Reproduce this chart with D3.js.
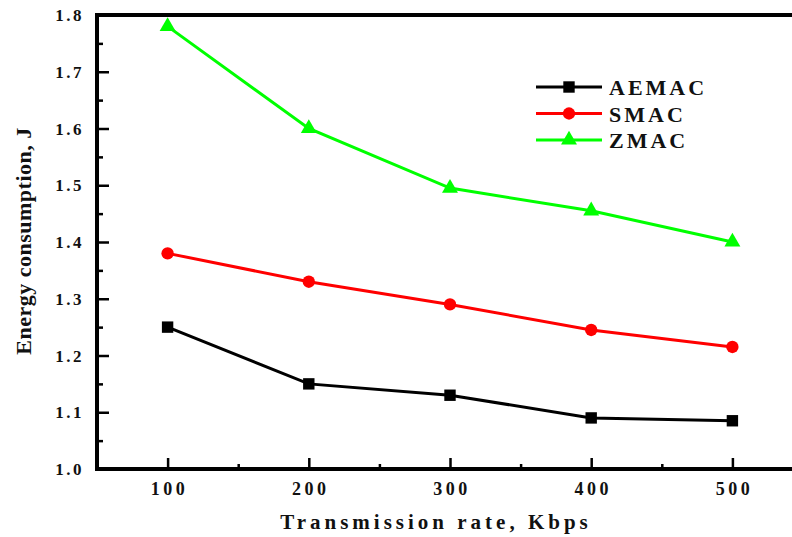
<!DOCTYPE html>
<html>
  <head>
    <meta charset="utf-8">
    <title>Energy consumption</title>
    <script src="https://d3js.org/d3.v7.min.js"></script>
    <style>
      body { margin: 0; background: #fff; }
      text { font-family: "Liberation Serif", "DejaVu Serif", serif; font-weight: bold; fill: #111; }
    </style>
  </head>
  <body>
    <script>
      // data
      var rates = [100, 200, 300, 400, 500];
      var aemac = [1.25, 1.15, 1.13, 1.09, 1.085];
      var smac = [1.38, 1.33, 1.29, 1.245, 1.215];
      var zmac = [1.78, 1.60, 1.495, 1.455, 1.40];
      var yTicks = [1.0, 1.1, 1.2, 1.3, 1.4, 1.5, 1.6, 1.7, 1.8];

      var series = [
        { name: "AEMAC", values: aemac, color: "#000000", symbol: d3.symbolSquare, size: 130 },
        { name: "SMAC", values: smac, color: "#ff0000", symbol: d3.symbolCircle, size: 120 },
        { name: "ZMAC", values: zmac, color: "#00ff00", symbol: d3.symbolTriangle, size: 110 }
      ];

      var W = 792, H = 537;
      var plotLeft = 97, plotTop = 15, plotBottom = 469;

      var svg = d3.select("body").append("svg")
                  .attr("width", W)
                  .attr("height", H);

      var x = d3.scaleLinear().domain([50, 550]).range([plotLeft, plotLeft + 706]);
      var y = d3.scaleLinear().domain([1.0, 1.8]).range([plotBottom, plotTop]);

      // left axis, ticks pointing inward
      var yAxis = svg.append("g").attr("transform", "translate(" + plotLeft + ",0)");
      yAxis.call(d3.axisRight(y).tickValues(yTicks).tickSize(12).tickFormat(""));
      yAxis.append("g").call(d3.axisRight(y).tickValues(d3.range(1.05, 1.8, 0.1)).tickSize(6).tickFormat(""));
      yAxis.selectAll("path.domain").remove();
      yAxis.selectAll("line").attr("stroke", "#000").attr("stroke-width", 2.5);

      yTicks.forEach(function(v) {
        svg.append("text")
           .attr("x", 84)
           .attr("y", y(v) + 6)
           .attr("text-anchor", "end")
           .style("font-size", "17px")
           .style("letter-spacing", "2.5px")
           .text(d3.format(".1f")(v));
      });

      // bottom axis, ticks pointing up
      var xAxis = svg.append("g").attr("transform", "translate(0," + plotBottom + ")");
      xAxis.call(d3.axisTop(x).tickValues(rates).tickSize(11).tickFormat(""));
      xAxis.append("g").call(d3.axisTop(x).tickValues([150, 250, 350, 450]).tickSize(5).tickFormat(""));
      xAxis.selectAll("path.domain").remove();
      xAxis.selectAll("line").attr("stroke", "#000").attr("stroke-width", 2.5);

      rates.forEach(function(v) {
        svg.append("text")
           .attr("x", x(v) + 2)
           .attr("y", 495)
           .attr("text-anchor", "middle")
           .style("font-size", "18px")
           .style("letter-spacing", "3.5px")
           .text(v);
      });

      // frame lines
      svg.append("line").attr("x1", plotLeft).attr("x2", W).attr("y1", plotTop).attr("y2", plotTop)
         .attr("stroke", "#000").attr("stroke-width", 4);
      svg.append("line").attr("x1", plotLeft).attr("x2", W).attr("y1", plotBottom).attr("y2", plotBottom)
         .attr("stroke", "#000").attr("stroke-width", 4);
      svg.append("line").attr("x1", plotLeft).attr("x2", plotLeft).attr("y1", plotTop - 2).attr("y2", plotBottom + 2)
         .attr("stroke", "#000").attr("stroke-width", 4);

      // lines and markers
      var line = d3.line()
                   .x(function(d, i) { return x(rates[i]); })
                   .y(function(d) { return y(d); });

      series.forEach(function(s) {
        svg.append("path")
           .datum(s.values)
           .attr("fill", "none")
           .attr("stroke", s.color)
           .attr("stroke-width", 3)
           .attr("d", line);
        svg.selectAll(null)
           .data(s.values)
           .enter()
           .append("path")
           .attr("transform", function(d, i) { return "translate(" + x(rates[i]) + "," + y(d) + ")"; })
           .attr("d", d3.symbol().type(s.symbol).size(s.size))
           .attr("fill", s.color);
      });

      // legend
      series.forEach(function(s, i) {
        var ly = 87 + i * 26.5;
        svg.append("line").attr("x1", 536).attr("x2", 602).attr("y1", ly).attr("y2", ly)
           .attr("stroke", s.color).attr("stroke-width", 3);
        svg.append("path")
           .attr("transform", "translate(569," + ly + ")")
           .attr("d", d3.symbol().type(s.symbol).size(s.size))
           .attr("fill", s.color);
        svg.append("text")
           .attr("x", 609)
           .attr("y", ly + 8)
           .style("font-size", "22px")
           .style("letter-spacing", "3px")
           .text(s.name);
      });

      // axis titles
      svg.append("text")
         .attr("x", 436)
         .attr("y", 529)
         .attr("text-anchor", "middle")
         .style("font-size", "21px")
         .style("letter-spacing", "4px")
         .text("Transmission rate, Kbps");

      svg.append("text")
         .attr("transform", "translate(31,241) rotate(-90)")
         .attr("text-anchor", "middle")
         .style("font-size", "22px")
         .style("letter-spacing", "0.5px")
         .text("Energy consumption, J");
    </script>
  </body>
</html>
